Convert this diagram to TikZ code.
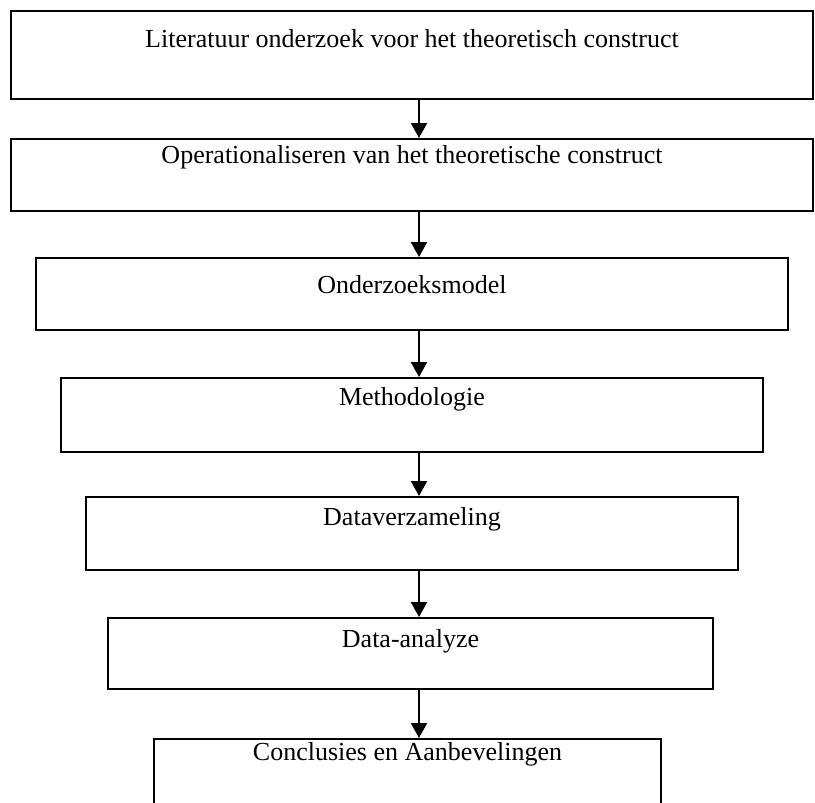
\documentclass[tikz,border=0pt]{standalone}
\usepackage{fontspec}
\setmainfont{Liberation Serif}
\usetikzlibrary{arrows.meta}
\begin{document}
\begin{tikzpicture}[x=1pt,y=1pt,
  box/.style={draw=black,line width=2pt,rectangle,inner sep=0pt,anchor=north west},
  lbl/.style={anchor=base,inner sep=0pt,font=\fontsize{26}{30}\selectfont},
  arr/.style={draw=black,line width=2pt,-{Triangle[width=16pt,length=15pt]}}]
\useasboundingbox (0,0) rectangle (815,-803);
\clip (0,0) rectangle (815,-803);
\coordinate (ax) at (419,0);
\node[box,minimum width=802pt,minimum height=88pt] (b1) at (10,-10) {};
\node[box,minimum width=802pt,minimum height=72pt] (b2) at (10,-138) {};
\node[box,minimum width=752pt,minimum height=72pt] (b3) at (35,-257) {};
\node[box,minimum width=702pt,minimum height=74pt] (b4) at (60,-377) {};
\node[box,minimum width=652pt,minimum height=73pt] (b5) at (85,-496) {};
\node[box,minimum width=605pt,minimum height=71pt] (b6) at (107,-617) {};
\node[box,minimum width=507pt,minimum height=100pt] (b7) at (153,-738) {};
\node[lbl] (t1) at ([yshift=-37pt]b1.north) {Literatuur onderzoek voor het theoretisch construct};
\node[lbl] (t2) at ([yshift=-25pt]b2.north) {Operationaliseren van het theoretische construct};
\node[lbl] (t3) at ([yshift=-36pt]b3.north) {Onderzoeksmodel};
\node[lbl] (t4) at ([yshift=-28pt]b4.north) {Methodologie};
\node[lbl] (t5) at ([yshift=-29pt]b5.north) {Dataverzameling};
\node[lbl] (t6) at ([yshift=-30pt]b6.north) {Data-analyze};
\node[lbl] (t7) at ([yshift=-22pt]b7.north) {Conclusies en Aanbevelingen};
\draw[arr] (b1.south -| ax) -- (b2.north -| ax);
\draw[arr] (b2.south -| ax) -- (b3.north -| ax);
\draw[arr] (b3.south -| ax) -- (b4.north -| ax);
\draw[arr] (b4.south -| ax) -- (b5.north -| ax);
\draw[arr] (b5.south -| ax) -- (b6.north -| ax);
\draw[arr] (b6.south -| ax) -- (b7.north -| ax);
\end{tikzpicture}
\end{document}
